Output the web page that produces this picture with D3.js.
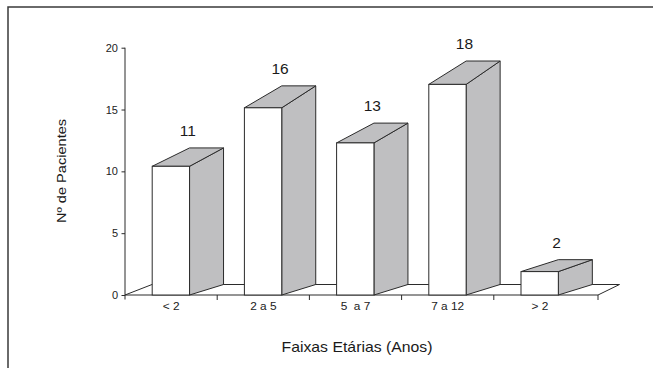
<!DOCTYPE html>
<html>
<head>
<meta charset="utf-8">
<script src="https://cdn.jsdelivr.net/npm/d3@7"></script>
<style>
  html, body { margin: 0; padding: 0; background: #fff; }
  svg { display: block; font-family: "Liberation Sans", Arial, Helvetica, sans-serif; }
</style>
</head>
<body>
<svg id="chart" width="653" height="368"></svg>
<script>
// Patients per age group
const categories = ["< 2", "2 a 5", "5  a 7", "7 a 12", "> 2"];
const patients = [11, 16, 13, 18, 2];
const yTicks = [0, 5, 10, 15, 20];

const svg = d3.select("#chart");
const ink = "#2b2b2b";
const sideFill = "#bfbfc1";
const textWiden = 1.13; // slightly extended lettering

// outer frame
svg.append("rect")
  .attr("x", 8).attr("y", 7)
  .attr("width", 700).attr("height", 400)
  .attr("fill", "none").attr("stroke", "#3a3a3a").attr("stroke-width", 1.5);

// scales: axis plane, front face plane and back face plane of the 3-D columns
const yAxis = d3.scaleLinear().domain([0, 20]).range([295, 47.7]);
const yFront = d3.scaleLinear().domain([0, 20]).range([295, 61]);
const yBack = d3.scaleLinear().domain([0, 20]).range([284.5, 36.2]);
const x = d3.scaleBand().domain(categories).range([125, 586]);

const floorFrontY = yFront(0), floorBackY = yBack(0);
const floorLeft = x.range()[0], floorRight = 598;
const floorDx = 27, floorDxRight = 21.5;
const frontW = x.bandwidth() * 0.405;
const frontOff = x.bandwidth() * 0.295;
const depth = 34;

// floor
svg.append("path")
  .attr("d", d3.line()([
    [floorLeft, floorFrontY],
    [floorLeft + floorDx, floorBackY],
    [floorRight + floorDxRight, floorBackY],
    [floorRight, floorFrontY]
  ]) + "Z")
  .attr("fill", "#fff").attr("stroke", ink).attr("stroke-width", 1);

// columns
const bars = svg.append("g").selectAll("g")
  .data(categories.map((c, i) => ({ c, v: patients[i] })))
  .join("g");

bars.each(function (d) {
  const g = d3.select(this);
  const x0 = x(d.c) + frontOff, x1 = x0 + frontW, x2 = x1 + depth;
  const yf = yFront(d.v), yb = yBack(d.v);
  // side face
  g.append("path")
    .attr("d", d3.line()([[x1, yf], [x2, yb], [x2, floorBackY], [x1, floorFrontY]]) + "Z")
    .attr("fill", sideFill).attr("stroke", ink).attr("stroke-width", 1)
    .attr("stroke-linejoin", "round");
  // top face
  g.append("path")
    .attr("d", d3.line()([[x0, yf], [x1, yb], [x2, yb], [x1, yf]]) + "Z")
    .attr("fill", sideFill).attr("stroke", ink).attr("stroke-width", 1)
    .attr("stroke-linejoin", "round");
  // front face
  g.append("rect")
    .attr("x", x0).attr("y", yf)
    .attr("width", frontW).attr("height", floorFrontY - yf)
    .attr("fill", "#fff").attr("stroke", ink).attr("stroke-width", 1);
  // value label
  g.append("text")
    .attr("x", x0 + (frontW + depth) / 2)
    .attr("y", yb - 12)
    .attr("text-anchor", "middle")
    .attr("font-size", 15.5)
    .attr("fill", "#1a1a1a")
    .text(d.v);
});

// y axis
svg.append("line")
  .attr("x1", floorLeft).attr("x2", floorLeft)
  .attr("y1", yAxis(20)).attr("y2", floorFrontY + 4.5)
  .attr("stroke", ink).attr("stroke-width", 1);

const yAxisG = svg.append("g")
  .attr("transform", `translate(${floorLeft},0)`)
  .call(d3.axisLeft(yAxis).tickValues(yTicks).tickSize(3.5).tickPadding(3.5).tickSizeOuter(0));
yAxisG.select(".domain").remove();
yAxisG.selectAll("line").attr("stroke", ink);
yAxisG.selectAll("text")
  .attr("font-size", 11).attr("fill", "#222")
  .attr("font-family", "'Liberation Sans', Arial, sans-serif");

// x axis: boundary ticks and centred category labels
const bounds = categories.slice(1).map(c => x(c)).concat([floorRight]);
svg.append("g").selectAll("line")
  .data(bounds)
  .join("line")
  .attr("x1", d => d).attr("x2", d => d)
  .attr("y1", floorFrontY).attr("y2", floorFrontY + 5)
  .attr("stroke", ink).attr("stroke-width", 1);

const xAxisG = svg.append("g")
  .attr("transform", `translate(0,${floorFrontY})`)
  .call(d3.axisBottom(x).tickSize(0).tickPadding(8));
xAxisG.select(".domain").remove();
xAxisG.selectAll("text")
  .attr("font-size", 10.5).attr("fill", "#222")
  .attr("font-family", "'Liberation Sans', Arial, sans-serif")
  .attr("transform", `scale(${textWiden},1)`)
  .style("white-space", "pre");

// axis titles
svg.append("text")
  .attr("transform", `translate(357,352) scale(${textWiden},1)`)
  .attr("text-anchor", "middle")
  .attr("font-size", 14).attr("fill", "#1a1a1a")
  .text("Faixas Etárias (Anos)");

svg.append("text")
  .attr("transform", `translate(66,171) rotate(-90) scale(1.08,1)`)
  .attr("text-anchor", "middle")
  .attr("font-size", 13.5).attr("fill", "#1a1a1a")
  .text("Nº de Pacientes");
</script>
</body>
</html>
